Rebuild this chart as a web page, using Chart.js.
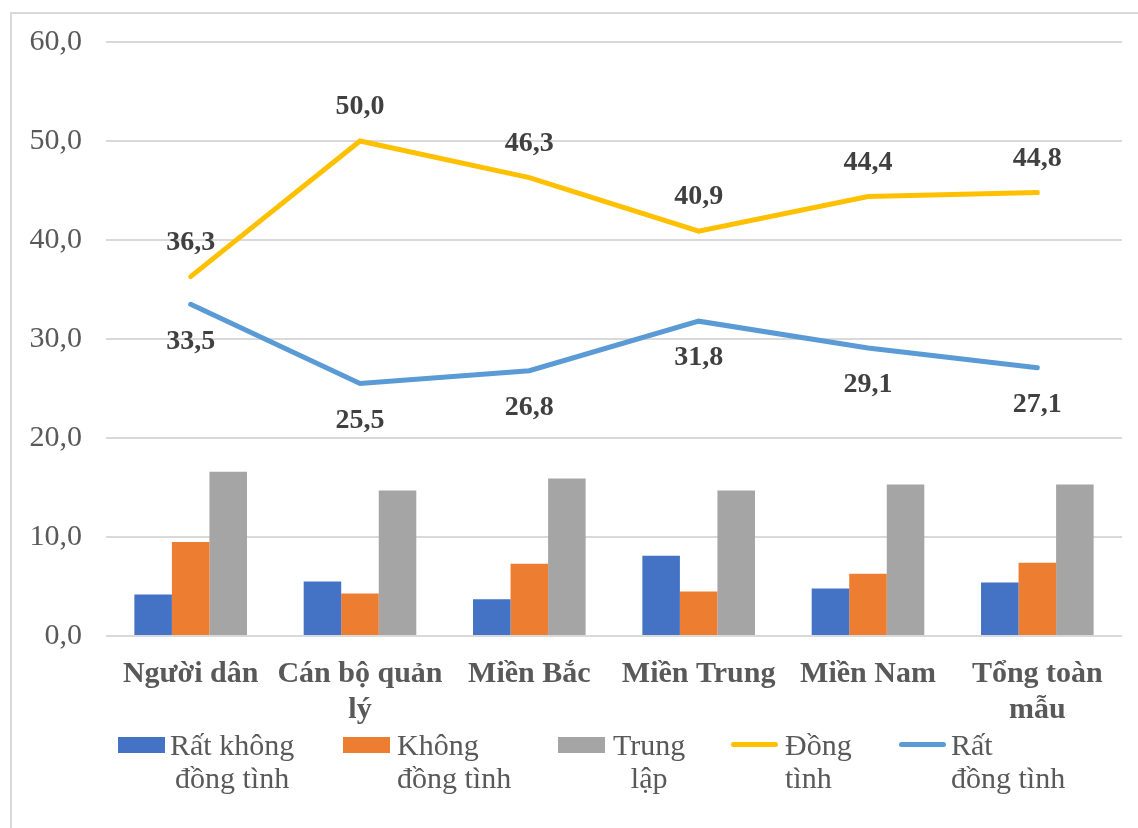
<!DOCTYPE html>
<html lang="vi">
<head>
<meta charset="utf-8">
<script src="https://cdn.jsdelivr.net/npm/chart.js@4.4.1/dist/chart.umd.min.js"></script>
<style>
  html, body { margin:0; padding:0; background:#fff; }
  #wrap { position:relative; width:1138px; height:828px; overflow:hidden; }
  #frame { position:absolute; left:10px; top:12px; width:1200px; height:900px; border:2px solid #D9D9D9; box-sizing:border-box; }
  #chart { position:absolute; left:0; top:0; }
  .lg-mark { position:absolute; }
  .lg-text { position:absolute; font-family:"Liberation Serif","Times New Roman",serif; font-size:30px; line-height:33px; color:#595959; white-space:nowrap; }
</style>
</head>
<body>
<div id="wrap">
  <div id="frame"></div>
  <canvas id="chart" width="1138" height="828"></canvas>
  <div id="legend"></div>
</div>
<script>
// Nhóm đối tượng khảo sát
const categories = [["Người dân"], ["Cán bộ quản", "lý"], ["Miền Bắc"], ["Miền Trung"], ["Miền Nam"], ["Tổng toàn", "mẫu"]];

// Tỷ lệ % theo mức độ đồng tình
const ratKhongDongTinh = [4.2, 5.5, 3.7, 8.1, 4.8, 5.4];
const khongDongTinh    = [9.5, 4.3, 7.3, 4.5, 6.3, 7.4];
const trungLap         = [16.6, 14.7, 15.9, 14.7, 15.3, 15.3];
const dongTinh         = [36.3, 50.0, 46.3, 40.9, 44.4, 44.8];
const ratDongTinh      = [33.5, 25.5, 26.8, 31.8, 29.1, 27.1];

const yTicks = [0, 10, 20, 30, 40, 50, 60];

const FONT = "'Liberation Serif', 'Times New Roman', serif";
const fmt = v => v.toFixed(1).replace(".", ",");

// Nhãn số liệu cho hai đường: trên đường vàng, dưới đường xanh
const lineLabels = {
  id: "lineLabels",
  afterDatasetsDraw(chart){
    const ctx = chart.ctx;
    ctx.save();
    ctx.font = "bold 28px " + FONT;
    ctx.fillStyle = "#404040";
    ctx.textAlign = "center";
    ctx.textBaseline = "middle";
    chart.data.datasets.forEach((ds, di) => {
      if(ds.type !== "line") return;
      const meta = chart.getDatasetMeta(di);
      const off = ds.labelPos === "above" ? -34 : 37;
      meta.data.forEach((pt, i) => {
        ctx.fillText(fmt(ds.data[i]), pt.x, pt.y + off);
      });
    });
    ctx.restore();
  }
};

const chart = new Chart(document.getElementById("chart"), {
  data: {
    labels: categories,
    datasets: [
      { type:"bar", label:"Rất không đồng tình", data:ratKhongDongTinh, backgroundColor:"#4472C4", order:2 },
      { type:"bar", label:"Không đồng tình", data:khongDongTinh, backgroundColor:"#ED7D31", order:2 },
      { type:"bar", label:"Trung lập", data:trungLap, backgroundColor:"#A5A5A5", order:2 },
      { type:"line", label:"Đồng tình", data:dongTinh, borderColor:"#FFC000", borderWidth:5,
        pointRadius:0, tension:0, borderCapStyle:"round", labelPos:"above", order:1 },
      { type:"line", label:"Rất đồng tình", data:ratDongTinh, borderColor:"#5B9BD5", borderWidth:5,
        pointRadius:0, tension:0, borderCapStyle:"round", labelPos:"below", order:1 }
    ]
  },
  options: {
    responsive:false,
    animation:false,
    layout:{ padding:{ left:0, right:16, top:42, bottom:92 } },
    datasets:{ bar:{ barPercentage:1, categoryPercentage:0.665 } },
    plugins:{ legend:{ display:false }, tooltip:{ enabled:false } },
    scales:{
      x:{
        grid:{ display:false },
        border:{ display:false },
        ticks:{ color:"#595959", font:{ family:FONT, size:30, weight:"bold", lineHeight:1.2 }, padding:12, maxRotation:0, autoSkip:false },
        afterFit(s){ s.height = 100; }
      },
      y:{
        min:0, max:60,
        afterBuildTicks(s){ s.ticks = yTicks.map(v => ({ value:v })); },
        grid:{ color:"#D9D9D9", lineWidth:2, drawTicks:false },
        border:{ display:false },
        ticks:{ color:"#595959", font:{ family:FONT, size:30 }, padding:24, callback:v => fmt(v) },
        afterFit(s){ s.width = 106; }
      }
    }
  },
  plugins:[lineLabels]
});

// Chú giải bên dưới biểu đồ
const legendItems = [
  { ds:0, kind:"box",  lines:["Rất không", "đồng tình"], mx:118, tx:170, align:"center" },
  { ds:1, kind:"box",  lines:["Không", "đồng tình"],     mx:343, tx:397, align:"left" },
  { ds:2, kind:"box",  lines:["Trung", "lập"],           mx:558, tx:613, align:"center" },
  { ds:3, kind:"line", lines:["Đồng", "tình"],           mx:731, tx:785, align:"left" },
  { ds:4, kind:"line", lines:["Rất", "đồng tình"],       mx:899, tx:951, align:"left" }
];
const legend = document.getElementById("legend");
legendItems.forEach(it => {
  const ds = chart.data.datasets[it.ds];
  const mark = document.createElement("div");
  mark.className = "lg-mark";
  mark.style.left = it.mx + "px";
  mark.style.width = "47px";
  if(it.kind === "box"){
    mark.style.top = "737px"; mark.style.height = "16px"; mark.style.background = ds.backgroundColor;
  } else {
    mark.style.top = "742px"; mark.style.height = "5px"; mark.style.borderRadius = "3px"; mark.style.background = ds.borderColor;
  }
  legend.appendChild(mark);
  const txt = document.createElement("div");
  txt.className = "lg-text";
  txt.style.left = it.tx + "px";
  txt.style.top = "728px";
  txt.style.textAlign = it.align;
  txt.innerHTML = it.lines.join("<br>");
  legend.appendChild(txt);
});
</script>
</body>
</html>
